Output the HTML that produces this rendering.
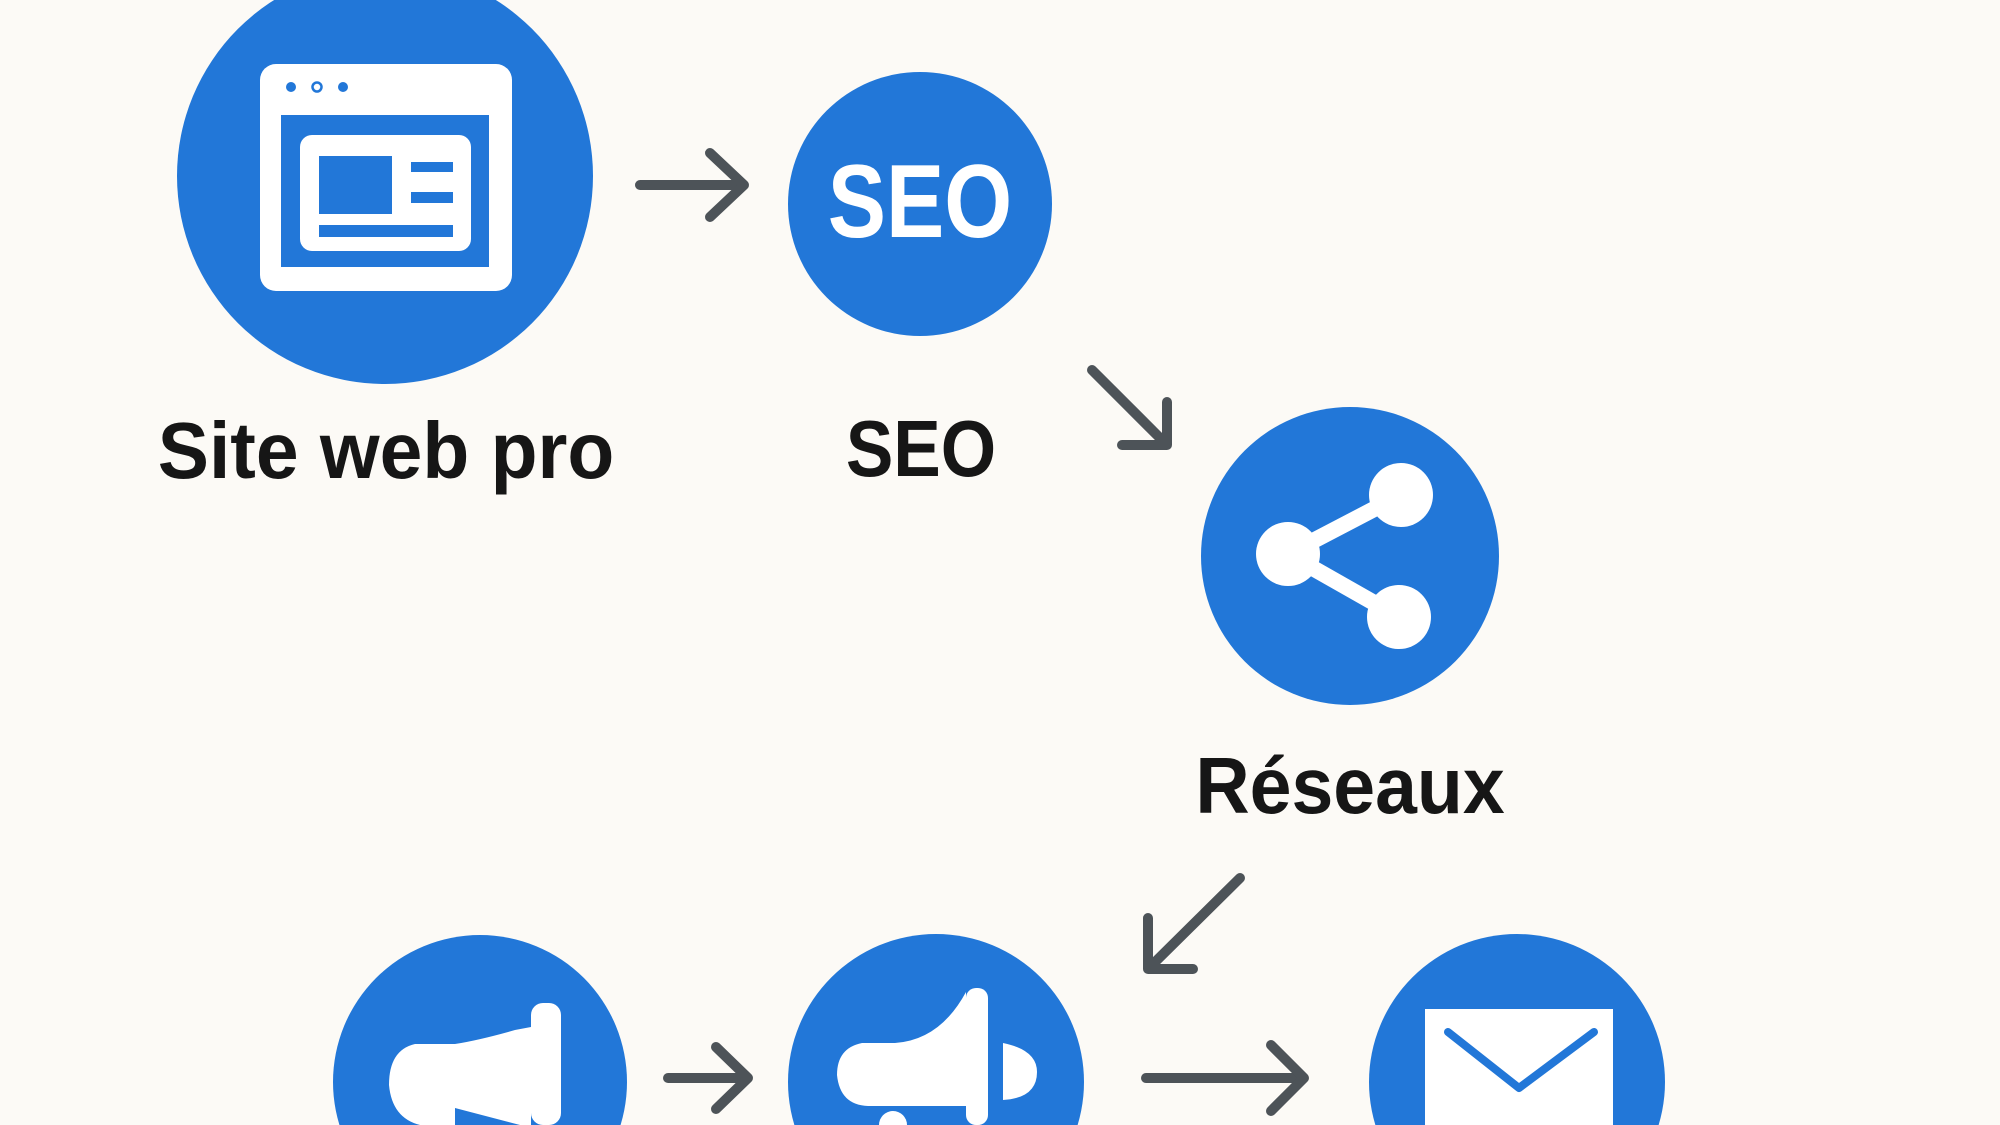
<!DOCTYPE html>
<html><head><meta charset="utf-8"><style>
html,body{margin:0;padding:0;background:#fcfaf6;width:2000px;height:1125px;overflow:hidden;}
svg{display:block}
text{font-family:"Liberation Sans",sans-serif;font-weight:bold}
</style></head><body>
<svg width="2000" height="1125" viewBox="0 0 2000 1125" xmlns="http://www.w3.org/2000/svg">
<rect width="2000" height="1125" fill="#fcfaf6"/>
<g fill="#2277d8">
<circle cx="385" cy="176" r="208"/>
<circle cx="920" cy="204" r="132"/>
<circle cx="1350" cy="556" r="149"/>
<circle cx="480" cy="1082" r="147"/>
<circle cx="936" cy="1082" r="148"/>
<circle cx="1517" cy="1082" r="148"/>
</g>
<rect x="260" y="64" width="252" height="227" rx="16" fill="#fff"/>
<rect x="281" y="115" width="208" height="152" fill="#2277d8"/>
<rect x="300" y="135" width="171" height="116" rx="12" fill="#fff"/>
<rect x="319" y="156" width="73" height="58" fill="#2277d8"/>
<rect x="411" y="162" width="42" height="10" fill="#2277d8"/>
<rect x="411" y="192" width="42" height="11" fill="#2277d8"/>
<rect x="319" y="225" width="134" height="12" fill="#2277d8"/>
<circle cx="291" cy="87" r="5" fill="#2277d8"/>
<circle cx="317" cy="87" r="4.5" fill="none" stroke="#2277d8" stroke-width="2.5"/>
<circle cx="343" cy="87" r="5" fill="#2277d8"/>
<text transform="translate(920,237) scale(0.84,1)" font-size="104" fill="#fff" text-anchor="middle">SEO</text>
<g stroke="#fff" stroke-width="16"><line x1="1288" y1="554" x2="1401" y2="495"/><line x1="1288" y1="554" x2="1399" y2="617"/></g>
<g fill="#fff"><circle cx="1401" cy="495" r="32"/><circle cx="1288" cy="554" r="32"/><circle cx="1399" cy="617" r="32"/></g>
<g fill="#fff">
<rect x="531" y="1003" width="30" height="122" rx="12"/>
<path d="M531 1027 L515 1030 Q480 1040 455 1044 L415 1044 Q389 1050 389 1085 Q392 1118 420 1125 L531 1125 Z"/>
</g>
<path d="M455 1108 L455 1125 L520 1125 Z" fill="#2277d8"/>
<g fill="#fff">
<rect x="966" y="988" width="22" height="137" rx="10"/>
<path d="M966 992 Q940 1040 895 1043 L862 1043 Q837 1048 837 1075 Q840 1105 868 1106 L966 1106 Z"/>
<path d="M1003 1043 Q1037 1050 1037 1072 Q1037 1098 1003 1100 Z"/>
<path d="M879 1125 A14 14 0 0 1 907 1125 Z"/>
</g>
<rect x="1425" y="1009" width="188" height="116" fill="#fff"/>
<rect x="1425" y="1009" width="188" height="40" rx="14" fill="#fff"/>
<polyline points="1448,1032 1519,1088 1594,1032" fill="none" stroke="#2277d8" stroke-width="8" stroke-linecap="round" stroke-linejoin="round"/>
<g fill="none" stroke="#4d5358" stroke-width="10" stroke-linecap="round" stroke-linejoin="round">
<line x1="640" y1="185" x2="742" y2="185"/><polyline points="710,153 744,185 710,217"/>
<line x1="1092" y1="370" x2="1165" y2="443"/><polyline points="1167,402 1167,445 1122,445"/>
<line x1="1240" y1="878" x2="1150" y2="967"/><polyline points="1148,918 1148,969 1193,969"/>
<line x1="668" y1="1078" x2="746" y2="1078"/><polyline points="716,1047 748,1078 716,1109"/>
<line x1="1146" y1="1078" x2="1300" y2="1078"/><polyline points="1271,1045 1304,1078 1271,1111"/>
</g>
<g fill="#161616" font-size="80" text-anchor="middle">
<text transform="translate(386,478) scale(0.96,1)">Site web pro</text>
<text transform="translate(921,476) scale(0.89,1)">SEO</text>
<text transform="translate(1350,813) scale(0.94,1)">Réseaux</text>
</g>
</svg>
</body></html>
